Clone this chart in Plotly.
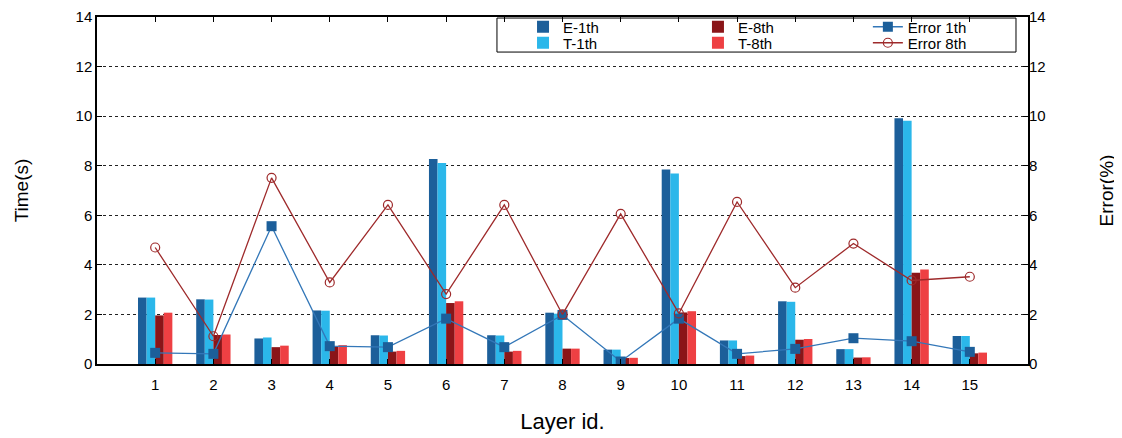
import plotly.graph_objects as go

layers = [str(i) for i in range(1, 16)]
e_1th = [2.68, 2.61, 1.03, 2.16, 1.16, 8.27, 1.16, 2.07, 0.58, 7.85, 0.95, 2.53, 0.60, 9.91, 1.13]
t_1th = [2.68, 2.60, 1.07, 2.15, 1.15, 8.11, 1.15, 2.03, 0.58, 7.69, 0.95, 2.51, 0.60, 9.81, 1.13]
e_8th = [1.96, 1.17, 0.68, 0.71, 0.50, 2.46, 0.50, 0.62, 0.24, 2.08, 0.32, 0.98, 0.26, 3.68, 0.43]
t_8th = [2.07, 1.19, 0.74, 0.76, 0.53, 2.53, 0.53, 0.62, 0.25, 2.13, 0.34, 1.01, 0.27, 3.81, 0.46]
err_1th = [0.45, 0.41, 5.56, 0.72, 0.68, 1.83, 0.68, 1.98, 0.10, 1.83, 0.41, 0.61, 1.04, 0.92, 0.49]
err_8th = [4.70, 1.12, 7.51, 3.29, 6.42, 2.82, 6.42, 2.00, 6.06, 2.04, 6.54, 3.08, 4.86, 3.37, 3.52]

C_E1 = '#1c5f9a'
C_T1 = '#2bb7ea'
C_E8 = '#8a1518'
C_T8 = '#ee4043'
C_ERR1_LINE = '#3377b8'
C_ERR8 = '#9e2a2b'

FONT = 'Liberation Sans, Arial, sans-serif'

fig = go.Figure()
for name, vals, col, lg in [('E-1th', e_1th, C_E1, 'legend'),
                            ('T-1th', t_1th, C_T1, 'legend2'),
                            ('E-8th', e_8th, C_E8, 'legend3'),
                            ('T-8th', t_8th, C_T8, 'legend4')]:
    fig.add_trace(go.Bar(x=layers, y=vals, name=name, marker=dict(color=col, line=dict(width=0)),
                         legend=lg))

fig.add_trace(go.Scatter(x=layers, y=err_1th, name='Error 1th', yaxis='y2', mode='lines+markers',
                         line=dict(color=C_ERR1_LINE, width=1.3),
                         marker=dict(symbol='square', size=10, color=C_E1),
                         legend='legend5'))
fig.add_trace(go.Scatter(x=layers, y=err_8th, name='Error 8th', yaxis='y2', mode='lines+markers',
                         line=dict(color=C_ERR8, width=1.3),
                         marker=dict(symbol='circle-open', size=9, color=C_ERR8, line=dict(width=1.2)),
                         legend='legend6'))

leg_common = dict(orientation='v', yanchor='middle', xanchor='left', bgcolor='rgba(0,0,0,0)',
                  borderwidth=0, font=dict(family=FONT, size=15, color='black'), visible=True)

col_x = [0.4576, 0.6455, 0.828]
row_y = [0.9712, 0.9251]

# page body adds an 8px margin, so the figure is 8px smaller and offset accordingly
fig.update_layout(
    width=1114, height=430,
    margin=dict(l=89, r=94, t=9, b=74, autoexpand=False),
    showlegend=True,
    paper_bgcolor='white', plot_bgcolor='white',
    barmode='group', bargap=0.41, bargroupgap=0,
    font=dict(family=FONT, size=15, color='black'),
    xaxis=dict(type='category', range=[-1, 15], showline=True, linecolor='black', linewidth=1.5,
               mirror='ticks', ticks='inside', ticklen=5, tickcolor='black', showgrid=False,
               tickfont=dict(size=15), automargin=False, ticklabelstandoff=6,
               title=dict(text='Layer id.', font=dict(size=22), standoff=22)),
    yaxis=dict(range=[0, 14], dtick=2, showline=True, linecolor='black', linewidth=1.5,
               mirror='ticks', ticks='inside', ticklen=5, tickcolor='black',
               showgrid=True, gridcolor='#222222', griddash='dot', gridwidth=1,
               zeroline=False, tickfont=dict(size=15), automargin=False,
               ticklabeloverflow='allow',
               title=dict(text='Time(s)', font=dict(size=19), standoff=42)),
    yaxis2=dict(range=[0, 14], dtick=2, overlaying='y', side='right', showgrid=False,
                zeroline=False, showline=False, ticks='', tickfont=dict(size=15), automargin=False,
                ticklabeloverflow='allow',
                title=dict(text='Error(%)', font=dict(size=19), standoff=55)),
    legend=dict(x=col_x[0], y=row_y[0], **leg_common),
    legend2=dict(x=col_x[0], y=row_y[1], **leg_common),
    legend3=dict(x=col_x[1], y=row_y[0], **leg_common),
    legend4=dict(x=col_x[1], y=row_y[1], **leg_common),
    legend5=dict(x=col_x[2], y=row_y[0], **leg_common),
    legend6=dict(x=col_x[2], y=row_y[1], **leg_common),
    shapes=[dict(type='rect', xref='paper', yref='paper', x0=0.4296, x1=0.9871, y0=0.899, y1=0.997,
                 line=dict(color='black', width=1), fillcolor='rgba(0,0,0,0)')],
)

fig.write_html('out.html')
